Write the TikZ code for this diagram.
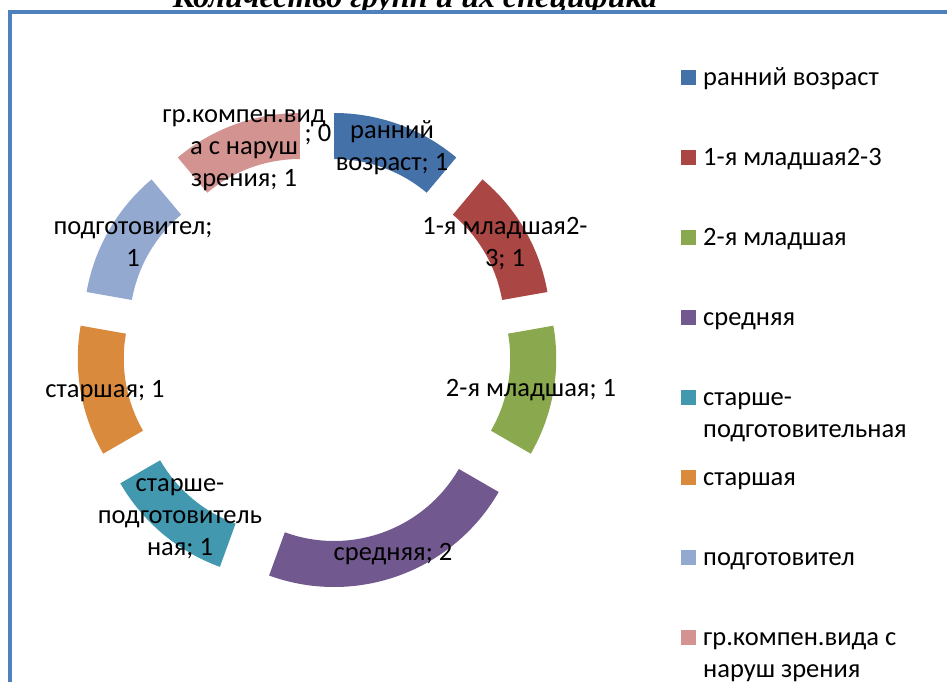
\documentclass[tikz,border=0pt]{standalone}
\usepackage{fontspec}
\setmainfont{Carlito}
\newfontfamily\titlefont{Liberation Serif}
\usepackage{tikz}
\usetikzlibrary{calc}

\definecolor{cRannij}{HTML}{4571A9}
\definecolor{cMladA}{HTML}{AA4644}
\definecolor{cMladB}{HTML}{8AA84E}
\definecolor{cSred}{HTML}{71588F}
\definecolor{cStPod}{HTML}{4198AF}
\definecolor{cStar}{HTML}{DA8A3D}
\definecolor{cPodg}{HTML}{94A9D0}
\definecolor{cKomp}{HTML}{D29391}
\definecolor{cFrame}{HTML}{4F81BD}

\newcommand\twolines[2]{\vtop{\hbox{#1}\hbox{#2}}}

\tikzset{
    lbl/.style = {align = center, inner sep = 0pt, font = \fontsize{26.5}{32}\selectfont},
    legtext/.style = {anchor = base west, inner sep = 0pt, font = \fontsize{26.5}{32}\selectfont}
}

\begin{document}
\begin{tikzpicture}[x = 1pt, y = 1pt]
    \clip (0, 0) rectangle (947, 682);
    \fill [white] (0, 0) rectangle (947, 682);
    \node [anchor = base, inner sep = 0pt, font = \titlefont\bfseries\itshape\fontsize{32}{36}\selectfont] (title) at (415, 674) {Количество групп и их специфика};
    \draw [cFrame, line width = 4pt] (10, -10) -- (10, 670) -- (960, 670);
    % exploded ring
    \coordinate (ctr) at (317, 332);
    \foreach \a\b\c in {90/50/cRannij, 50/10/cMladA, 10/-30/cMladB, -30/-110/cSred, -110/-150/cStPod, -150/-190/cStar, -190/-230/cPodg, -230/-270/cKomp} {
        \fill [\c, shift = {($(ctr) + ({(\a + \b)/2}:50)$)}] (\a:190) arc [start angle = \a, end angle = \b, radius = 190] -- (\b:144) arc [start angle = \b, end angle = \a, radius = 144] -- cycle;
    }
    % data labels
    \foreach \x\y\t [count = \i] in {392/534/{ранний\\возраст; 1}, 505/438/{1-я младшая2-\\3; 1}, 531/292/{2-я младшая; 1}, 393/128/{средняя; 2}, 180/163/{старше-\\подготовитель\\ная; 1}, 105/291/{старшая; 1}, 133/438/{подготовител;\\1}, 244/532/{гр.компен.вид\\а с наруш\\зрения; 1}, 318/547/{; 0}} {
        \node [lbl] (lab\i) at (\x, \y) {\t};
    }
    % legend
    \foreach \c\t [count = \i] in {cRannij/ранний возраст, cMladA/1-я младшая2-3, cMladB/2-я младшая, cSred/средняя, cStPod/{\twolines{старше-}{подготовительная}}, cStar/старшая, cPodg/подготовител, cKomp/{\twolines{гр.компен.вида с}{наруш зрения}}} {
        \fill [\c] (681, 684 - 80*\i - 7.5) rectangle ++(15, 15);
        \node [legtext] (leg\i) at (703, 684 - 80*\i - 8) {\t};
    }
\end{tikzpicture}
\end{document}
